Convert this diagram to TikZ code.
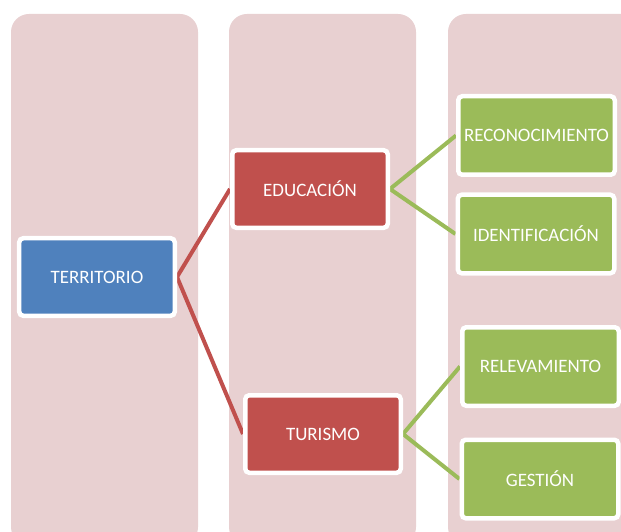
\documentclass[tikz,border=0pt]{standalone}
\usepackage{fontspec}
\setmainfont{Carlito}
\usetikzlibrary{backgrounds}
\definecolor{colpink}{RGB}{232,208,209}
\definecolor{nblue}{RGB}{79,129,189}
\definecolor{nred}{RGB}{192,80,77}
\definecolor{ngreen}{RGB}{155,187,89}
\begin{document}
\begin{tikzpicture}[x=1bp,y=-1bp,
  column/.style={fill=colpink,draw=none,rounded corners=18bp},
  box/.style={rectangle,rounded corners=4bp,draw=white,line width=4.5bp,
    minimum width=155.5bp,minimum height=77.5bp,inner sep=0pt,
    text=white,font=\fontsize{19}{21}\selectfont},
  bluebox/.style={box,fill=nblue},
  redbox/.style={box,fill=nred},
  greenbox/.style={box,fill=ngreen,minimum width=156.5bp,minimum height=78.5bp},
  redline/.style={draw=nred,line width=4bp},
  greenline/.style={draw=ngreen,line width=4bp}]
\useasboundingbox (0,0) rectangle (621,532);
\node[bluebox] (terr) at (97,277) {TERRITORIO};
\node[redbox] (edu) at (310,189) {EDUCACIÓN};
\node[redbox] (tur) at (323,434) {TURISMO};
\node[greenbox] (rec) at (536.5,135.5) {RECONOCIMIENTO};
\node[greenbox] (ide) at (536,234) {IDENTIFICACIÓN};
\node[greenbox] (rel) at (540.5,366.5) {RELEVAMIENTO};
\node[greenbox] (ges) at (540,479) {GESTIÓN};
\begin{scope}[on background layer]
\begin{scope}
\clip (0,0) rectangle (621,532);
\fill[column] (11,14) rectangle (198,545);
\fill[column] (229,14) rectangle (416,545);
\fill[column] (448,14) rectangle (640,545);
\end{scope}
\draw[redline] (terr.east) -- (edu.west);
\draw[redline] (terr.east) -- (tur.west);
\draw[greenline] (edu.east) -- (rec.west);
\draw[greenline] (edu.east) -- (ide.west);
\draw[greenline] (tur.east) -- (rel.west);
\draw[greenline] (tur.east) -- (ges.west);
\end{scope}
\end{tikzpicture}
\end{document}
